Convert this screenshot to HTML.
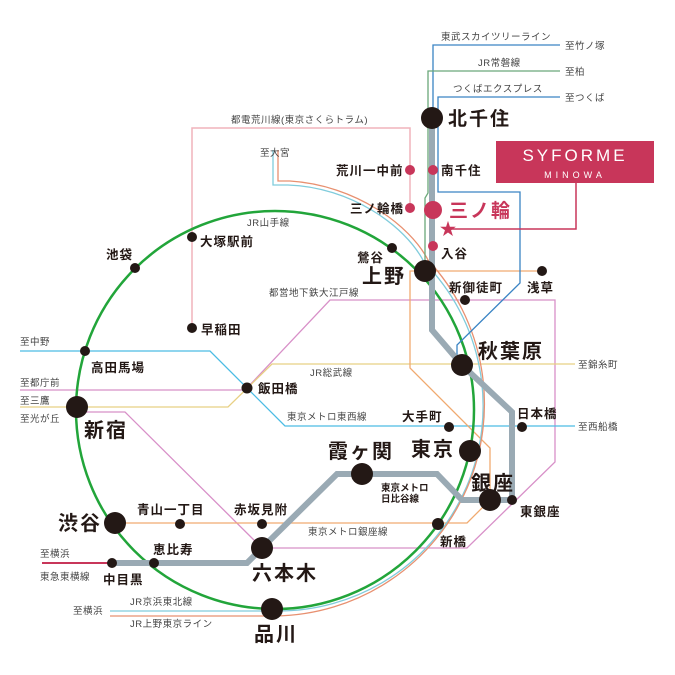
<!DOCTYPE html>
<html><head><meta charset="utf-8"><style>
html,body{margin:0;padding:0;background:#fff}
svg{display:block}
text{font-family:"Liberation Sans","Noto Sans CJK JP",sans-serif;fill:#231815}
.b{font-size:17px;font-weight:bold;letter-spacing:2px}
.m{font-size:12.5px;font-weight:bold;letter-spacing:1px}
.s{font-size:9.5px;fill:#444;letter-spacing:0.5px}
</style></head><body>
<svg width="675" height="675" viewBox="0 0 675 675" xmlns="http://www.w3.org/2000/svg">
<g fill="none" stroke-linejoin="miter">
<path d="M410,170 V128 H192 V328" stroke="#f0b4bc" stroke-width="1.5"/>
<path d="M410,170 V208" stroke="#f0b4bc" stroke-width="1.5"/>
<path d="M247,388 L330,300 H555 V462 L467,548 H262 L125,412 H77" stroke="#d890c8" stroke-width="1.3"/>
<path d="M20,390 H247" stroke="#d890c8" stroke-width="1.3"/>
<path d="M20,351 H210 L285,426 H575" stroke="#4cbce4" stroke-width="1.3"/>
<path d="M20,407 H228 L272,364 H575" stroke="#e8d084" stroke-width="1.3"/>
<path d="M542,271 H410 V368 L490,448 V500 L467,523 H115" stroke="#f0aa70" stroke-width="1.3"/>
<path d="M273,150 V185 H288 C350,187 405,225 424,262 A205 205 0 0 1 275,611 H110" stroke="#80ccdc" stroke-width="1.3"/>
<path d="M278,150 V181 H290 C355,185 410,225 428,260 A212 212 0 0 1 275,616 H110" stroke="#e89070" stroke-width="1.3"/>
<circle cx="275" cy="410" r="199" stroke="#22a53a" stroke-width="2.5"/>
<path d="M560,45 H433 V118" stroke="#3a84c4" stroke-width="1.3"/>
<path d="M560,71 H428 V193 L425,198 V265" stroke="#6aa87a" stroke-width="1.3"/>
<path d="M560,97 H438 V192 H520 V283 L457,345 V355" stroke="#3a84c4" stroke-width="1.3"/>
<path d="M42,563 H112" stroke="#c8365a" stroke-width="2"/>
<path d="M432,118 V330 L462,365 L512,412 V500 H490 H462 L437,474 H337 L262,548 L247,563 H112" stroke="#9aaab4" stroke-width="6"/>
<path d="M576,183 V229 H448" stroke="#c8365a" stroke-width="1.5"/>
</g>
<g fill="#231815">
<circle cx="432" cy="118" r="11"/><circle cx="425" cy="271" r="11"/><circle cx="462" cy="365" r="11"/>
<circle cx="470" cy="451" r="11"/><circle cx="490" cy="500" r="11"/><circle cx="362" cy="474" r="11"/>
<circle cx="262" cy="548" r="11"/><circle cx="272" cy="609" r="11"/><circle cx="115" cy="523" r="11"/>
<circle cx="77" cy="407" r="11"/>
<circle cx="135" cy="268" r="5"/><circle cx="192" cy="237" r="5"/><circle cx="192" cy="328" r="5"/>
<circle cx="85" cy="351" r="5"/><circle cx="247" cy="388" r="5.5"/><circle cx="392" cy="248" r="5"/>
<circle cx="465" cy="300" r="5"/><circle cx="542" cy="271" r="5"/><circle cx="449" cy="427" r="5"/>
<circle cx="522" cy="427" r="5"/><circle cx="512" cy="500" r="5"/><circle cx="438" cy="524" r="6"/>
<circle cx="180" cy="524" r="5"/><circle cx="262" cy="524" r="5"/><circle cx="154" cy="563" r="5"/>
<circle cx="112" cy="563" r="5"/>
</g>
<g fill="#c8365a">
<circle cx="433" cy="170" r="5"/><circle cx="433" cy="210" r="9"/><circle cx="433" cy="246" r="5"/>
<circle cx="410" cy="170" r="5"/><circle cx="410" cy="208" r="5"/>
<text x="448" y="235" style="fill:#c8365a;font-size:17px" text-anchor="middle">★</text>
</g>
<rect x="496" y="141" width="158" height="42" fill="#c8365a"/>
<text x="575" y="161" text-anchor="middle" style="fill:#fff;font-size:17px;letter-spacing:3px">SYFORME</text>
<text x="575" y="178" text-anchor="middle" style="fill:#fff;font-size:9px;letter-spacing:4px">MINOWA</text>
<text class="s" x="441" y="40">東武スカイツリーライン</text>
<text class="s" x="565" y="49">至竹ノ塚</text>
<text class="s" x="478" y="66">JR常磐線</text>
<text class="s" x="565" y="75">至柏</text>
<text class="s" x="453" y="92">つくばエクスプレス</text>
<text class="s" x="565" y="101">至つくば</text>
<text class="s" x="231" y="123">都電荒川線(東京さくらトラム)</text>
<text class="s" x="260" y="156">至大宮</text>
<text class="s" x="247" y="226">JR山手線</text>
<text class="s" x="269" y="296">都営地下鉄大江戸線</text>
<text class="s" x="310" y="376">JR総武線</text>
<text class="s" x="287" y="420">東京メトロ東西線</text>
<text class="s" x="578" y="368">至錦糸町</text>
<text class="s" x="578" y="430">至西船橋</text>
<text class="s" x="20" y="345">至中野</text>
<text class="s" x="20" y="386">至都庁前</text>
<text class="s" x="20" y="404">至三鷹</text>
<text class="s" x="20" y="422">至光が丘</text>
<text class="s" x="40" y="557">至横浜</text>
<text class="s" x="40" y="580">東急東横線</text>
<text class="s" x="73" y="614">至横浜</text>
<text class="s" x="130" y="605">JR京浜東北線</text>
<text class="s" x="130" y="627">JR上野東京ライン</text>
<text class="s" x="308" y="535">東京メトロ銀座線</text>
<text x="381" y="491" style="font-size:9.5px;font-weight:bold">東京メトロ</text>
<text x="381" y="502" style="font-size:9.5px;font-weight:bold">日比谷線</text>
<text class="b" x="448" y="125" style="font-size:19px">北千住</text>
<text class="m" x="441" y="175">南千住</text>
<text class="b" x="449" y="217" style="fill:#c8365a;font-size:19px">三ノ輪</text>
<text class="m" x="441" y="258">入谷</text>
<text class="m" x="336" y="175">荒川一中前</text>
<text class="m" x="350" y="213">三ノ輪橋</text>
<text class="m" x="357" y="262">鶯谷</text>
<text class="b" x="362" y="283" style="font-size:20px">上野</text>
<text class="m" x="449" y="292">新御徒町</text>
<text class="m" x="527" y="292">浅草</text>
<text class="b" x="478" y="358" style="font-size:20px">秋葉原</text>
<text class="m" x="517" y="418">日本橋</text>
<text class="m" x="402" y="421">大手町</text>
<text class="b" x="411" y="456" style="font-size:20px">東京</text>
<text class="b" x="471" y="490" style="font-size:20px">銀座</text>
<text class="m" x="520" y="516">東銀座</text>
<text class="m" x="440" y="546">新橋</text>
<text class="b" x="328" y="458" style="font-size:20px">霞ヶ関</text>
<text class="m" x="234" y="514">赤坂見附</text>
<text class="m" x="137" y="514">青山一丁目</text>
<text class="b" x="58" y="530" style="font-size:20px">渋谷</text>
<text class="m" x="153" y="554">恵比寿</text>
<text class="m" x="103" y="584">中目黒</text>
<text class="b" x="252" y="580" style="font-size:20px">六本木</text>
<text class="b" x="254" y="641" style="font-size:20px">品川</text>
<text class="b" x="84" y="437" style="font-size:20px">新宿</text>
<text class="m" x="91" y="372">高田馬場</text>
<text class="m" x="258" y="393">飯田橋</text>
<text class="m" x="201" y="334">早稲田</text>
<text class="m" x="200" y="246">大塚駅前</text>
<text class="m" x="106" y="259">池袋</text>
</svg>
</body></html>
